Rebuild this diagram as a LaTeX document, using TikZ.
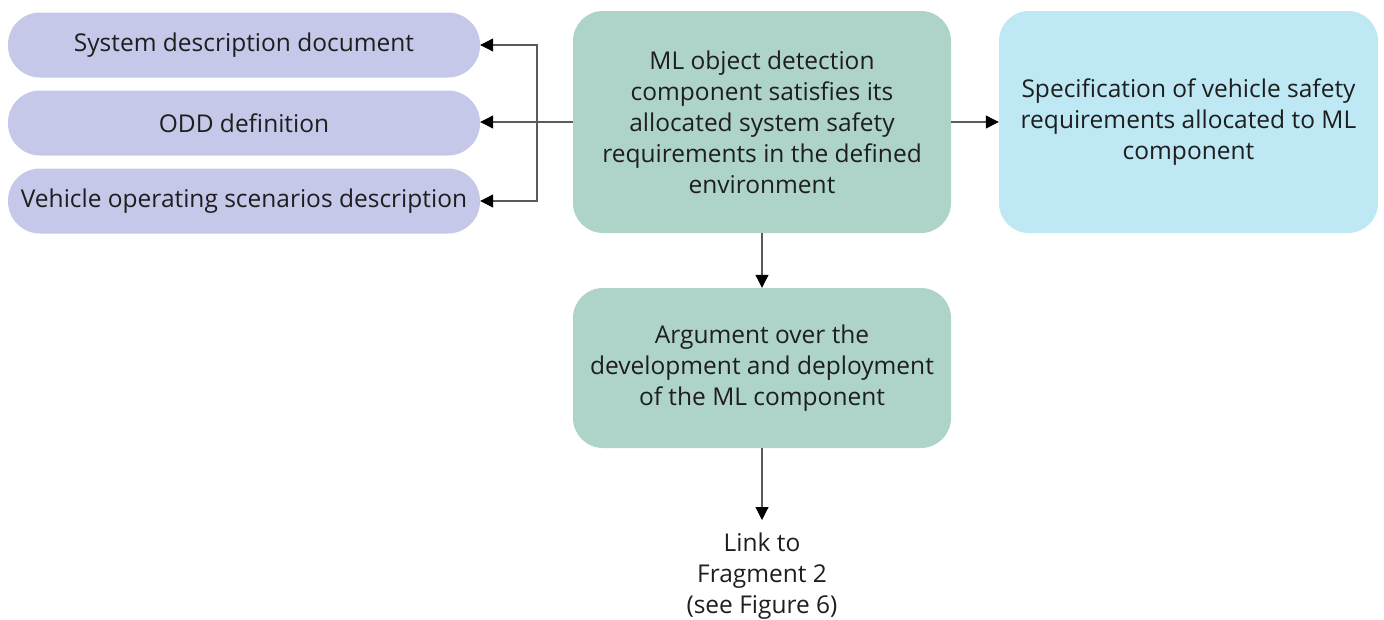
\documentclass[tikz,border=0pt]{standalone}
\usepackage{fontspec}
\setmainfont{Open Sans}
\usetikzlibrary{arrows.meta}
\definecolor{pillfill}{HTML}{C5C8E8}
\definecolor{goalfill}{HTML}{AED4CA}
\definecolor{specfill}{HTML}{BEE8F4}
\definecolor{linkline}{HTML}{5A5A5A}
\definecolor{txt}{HTML}{1E1E1E}
\tikzset{
  pill/.style={draw=none, fill=pillfill, rounded corners=32pt, minimum width=472pt,
    minimum height=65pt, inner sep=0pt, text=txt, font=\fontsize{24.5}{31}\selectfont},
  goalbox/.style={draw=none, fill=goalfill, rounded corners=30pt, minimum width=378pt,
    inner sep=0pt, text=txt, align=center, font=\fontsize{24.5}{31}\selectfont},
  specbox/.style={goalbox, fill=specfill, minimum width=379pt},
  conn/.style={draw=linkline, line width=1.1pt, -{Triangle[length=13pt,width=13pt,fill=black,color=black]}},
  plainline/.style={draw=linkline, line width=1.1pt},
}
\begin{document}
\begin{tikzpicture}[x=1pt,y=-1pt]
  \useasboundingbox (0,0) rectangle (1384,619);

  % context items on the left
  \node[pill] (sysdoc) at (244,45) {System description document};
  \node[pill] (odd) at (244,123) {ODD definition};
  \node[pill] (scen) at (244,201) {Vehicle operating scenarios description};

  % top-level goal and its requirement specification
  \node[goalbox, minimum height=222pt] (goal) at (762,122)
    {ML object detection\\component satisfies its\\allocated system safety\\requirements in the defined\\environment};
  \node[specbox, minimum height=222pt] (spec) at (1188.5,122)
    {Specification of vehicle safety\\requirements allocated to ML\\component};

  % sub-argument
  \node[goalbox, minimum height=160pt] (arg) at (762,368)
    {Argument over the\\development and deployment\\of the ML component};

  % off-page link
  \node[anchor=north, inner sep=0pt, align=center, text=txt,
        font=\fontsize{24.5}{31}\selectfont] (link) at (762,533)
    {Link to\\Fragment 2\\(see Figure 6)};

  % connectors
  \coordinate (split) at (537,122);
  \draw[plainline] (goal.west) -- (split);
  \draw[conn] (split) |- (sysdoc.east);
  \draw[conn] (split) -- (odd.east |- split);
  \draw[conn] (split) |- (scen.east);
  \draw[conn] (goal.east) -- (spec.west);
  \draw[conn] (goal.south) -- (arg.north);
  \draw[conn] (arg.south) -- ([yshift=13pt]link.north);
\end{tikzpicture}
\end{document}
